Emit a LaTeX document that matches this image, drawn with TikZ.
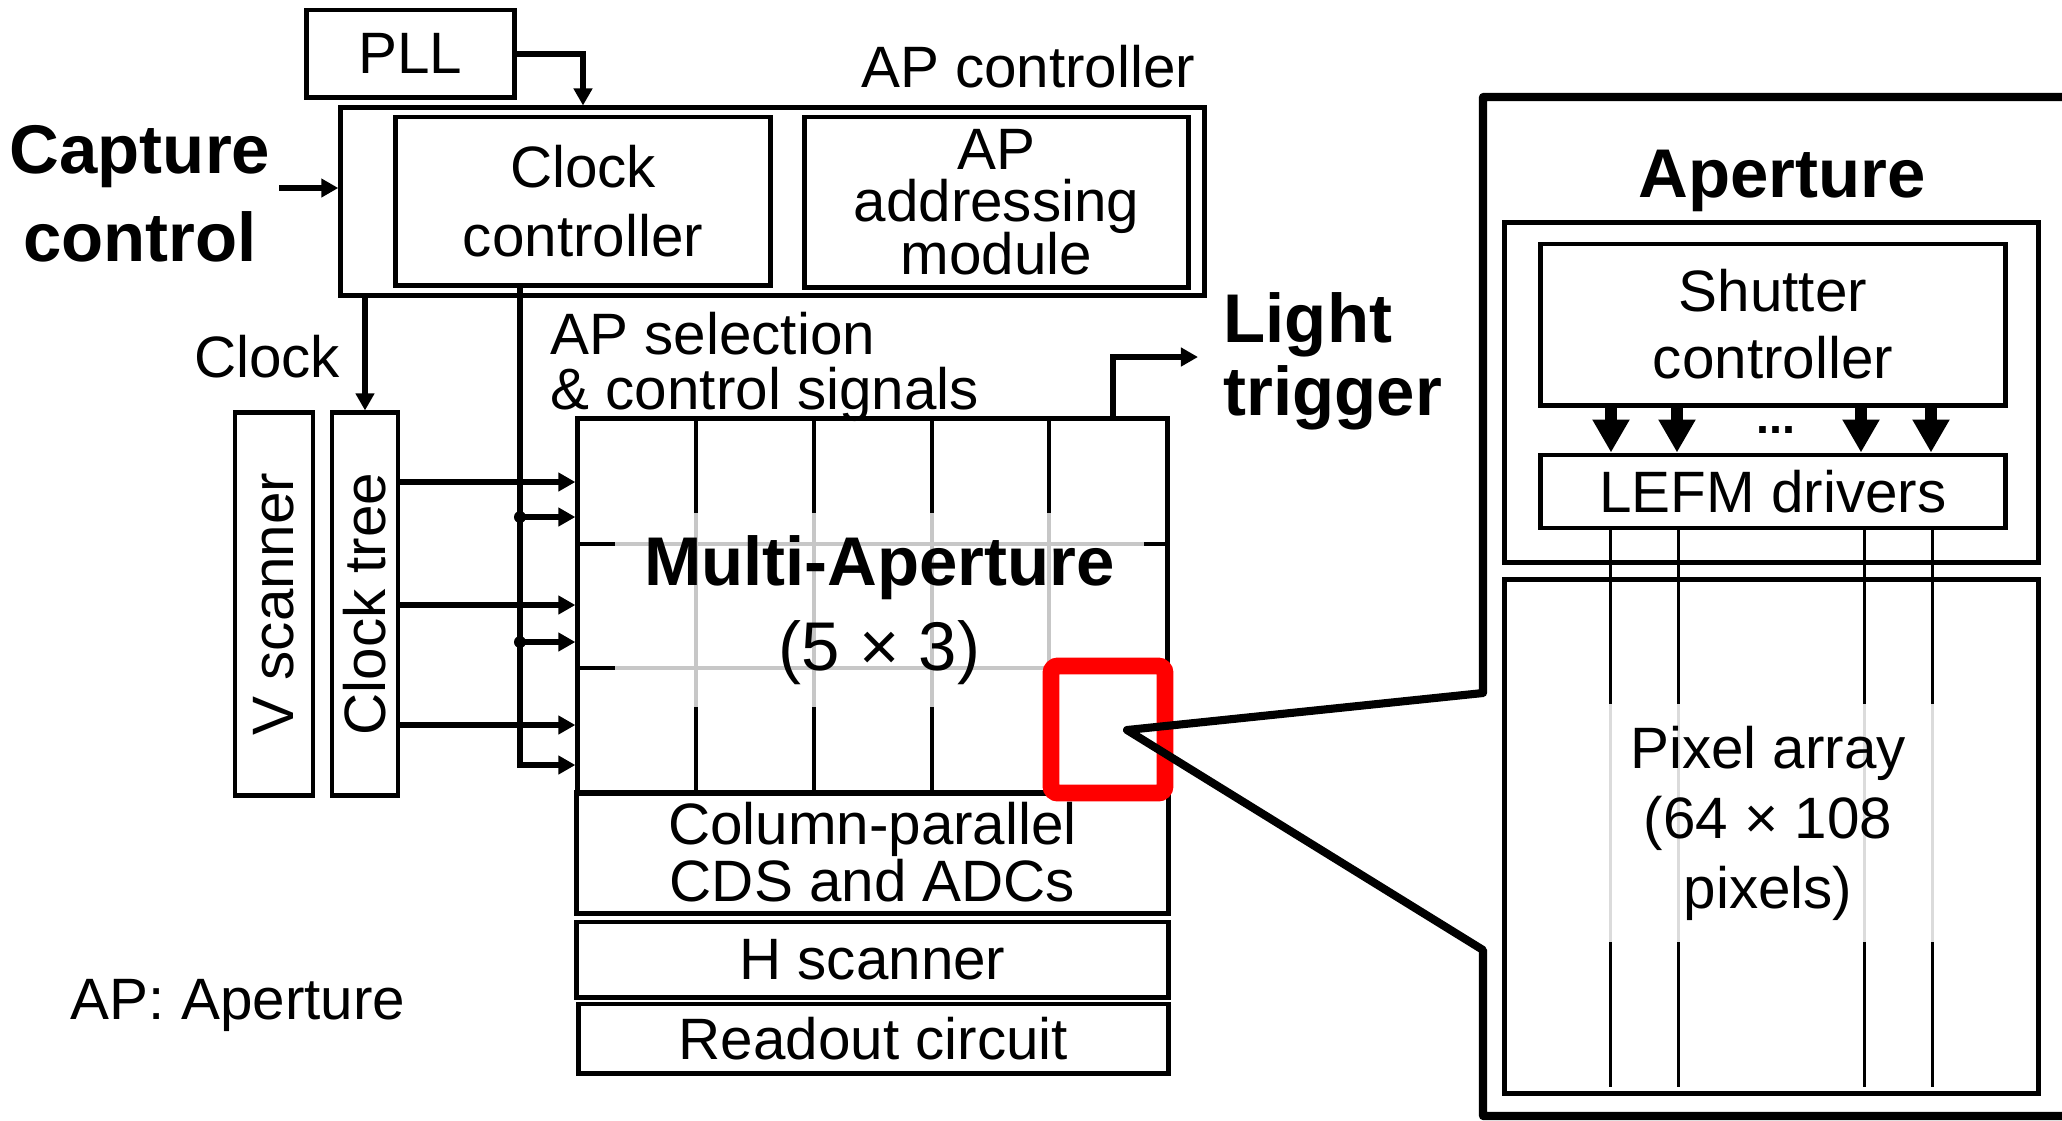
\documentclass[tikz,border=0pt]{standalone}
\usepackage{fontspec}
\setmainfont{Liberation Sans}
\usepackage{graphicx}
\usetikzlibrary{arrows.meta}
\lineskiplimit=-\maxdimen
\newcommand{\rmsize}{\fontsize{16.6}{19.6}\selectfont}
\newcommand{\bfsize}{\fontsize{19.6}{24}\selectfont\bfseries}
\begin{document}
\begin{tikzpicture}[x=0.01cm,y=-0.01cm,>={Triangle[length=0.17cm,width=0.18cm]},
	blk/.style={draw,line width=1.4pt,inner sep=0pt,align=center,font=\rmsize},
	lbl/.style={inner sep=0pt,align=center,font=\rmsize},
	bold lbl/.style={inner sep=0pt,align=center,font=\bfsize},
	sig/.style={->,line width=1.7pt},
	cellline/.style={line width=1.4pt},
	fat/.style={line width=3.4pt,-{Triangle[length=0.33cm,width=0.35cm]}},
	veil/.style={inner sep=0pt,align=center,fill=white,text opacity=1}]
	\useasboundingbox (0,0) rectangle (2062,1120);
	% AP controller
	\node[blk,minimum width=2.07cm,minimum height=0.87cm] (pll) at (410.5,53.5) {PLL};
	\node[blk,minimum width=8.63cm,minimum height=1.87cm] (apc) at (772.5,201.5) {};
	\node[lbl,anchor=base east] (apclbl) at (1196,87) {AP controller};
	\node[blk,minimum width=3.74cm,minimum height=1.68cm] (clkctl) at (583,201) {Clock\\controller};
	\node[blk,minimum width=3.83cm,minimum height=1.70cm,font=\fontsize{16.6}{15}\selectfont] (apam) at (996.5,202) {AP\\addressing\\module};
	\node[bold lbl,font=\fontsize{19.6}{25}\selectfont\bfseries] (capctl) at (140,194) {Capture\\control};
	\coordinate (capin) at (279,188);
	\draw[sig] (capin) -- (capin -| apc.west);
	\draw[sig] (pll.east) -| (clkctl.north |- apc.north);
	% scanners
	\node[lbl,anchor=base] (clklbl) at (267,377) {Clock};
	\node[blk,minimum width=0.78cm,minimum height=3.82cm] (vsc) at (274,604) {\rotatebox{90}{V scanner}};
	\node[blk,minimum width=0.66cm,minimum height=3.82cm] (tree) at (365,604) {\rotatebox{90}{Clock tree}};
	\draw[sig] (tree.north |- apc.south) -- (tree.north);
	% multi-aperture array
	\node[draw,line width=1.4pt,minimum width=5.89cm,minimum height=3.74cm] (array) at (872.5,606) {};
	\foreach \x in {696,814,932,1049}
		\draw[cellline] (array.north -| \x,0) -- (array.south -| \x,0);
	\foreach \y in {544,668}
		\draw[cellline] (array.west |- 0,\y) -- (array.east |- 0,\y);
	\node[veil,fill opacity=0.78,minimum width=5.29cm,minimum height=1.93cm,font=\fontsize{19.6}{24.2}\selectfont] (ma) at (879.5,610) {\textbf{Multi-Aperture}\\(5 × 3)};
	\foreach \y in {482,605,725}
		\draw[sig] (tree.east |- 0,\y) -- (array.west |- 0,\y);
	\coordinate (bus) at (520,0);
	\draw[sig] (clkctl.south -| bus) |- (array.west |- 0,765);
	\foreach \y in {517,642} {
		\draw[sig] (bus |- 0,\y) -- (array.west |- 0,\y);
		\fill (bus |- 0,\y) circle (0.06cm);
	}
	\node[lbl,anchor=west,align=left,font=\fontsize{16.6}{15.6}\selectfont] (apsel) at (550,367) {AP selection\\\& control signals};
	\node[bold lbl,anchor=west,align=left,font=\fontsize{19.6}{20.8}\selectfont\bfseries] (lt) at (1223,361) {Light\\trigger};
	\coordinate (ltend) at (1198,357);
	\draw[sig] (array.north -| 1113,0) |- (ltend);
	% readout chain
	\node[blk,minimum width=5.91cm,minimum height=1.21cm,font=\fontsize{16.6}{16.2}\selectfont] (colpar) at (872.5,852.5) {Column-parallel\\CDS and ADCs};
	\node[blk,minimum width=5.91cm,minimum height=0.75cm] (hsc) at (872.5,959.5) {H scanner};
	\node[blk,minimum width=5.89cm,minimum height=0.69cm] (rdo) at (873.5,1038.5) {Readout circuit};
	\node[lbl,anchor=base] (apnote) at (238,1019) {AP: Aperture};
	\node[draw=red,line width=4.8pt,rounded corners=2pt,minimum width=1.14cm,minimum height=1.27cm] (sel) at (1108,729.5) {};
	% aperture detail
	\draw[line width=2.3pt,line join=round] (2062,97) -- (1483,97) -- (1483,693) -- (1127,730) -- (1483,950) -- (1483,1116) -- (2062,1116);
	\node[bold lbl,anchor=base] (aptitle) at (1782,197) {Aperture};
	\node[blk,minimum width=5.33cm,minimum height=3.39cm] (apbox) at (1771.5,392.5) {};
	\node[blk,minimum width=4.64cm,minimum height=1.61cm,font=\fontsize{16.6}{19}\selectfont] (shut) at (1773,324.5) {Shutter\\controller};
	\node[blk,minimum width=4.64cm,minimum height=0.73cm] (lefm) at (1773,491.5) {LEFM drivers};
	\foreach \x in {1611,1677,1861,1931}
		\draw[fat] (shut.south -| \x,0) -- (lefm.north -| \x,0);
	\node[inner sep=0pt,font=\fontsize{13.3}{14}\selectfont\bfseries] (dots) at (1776,430) {...};
	\node[blk,minimum width=5.33cm,minimum height=5.13cm] (pix) at (1771.5,836.5) {};
	\foreach \x in {1610,1678,1864,1932}
		\draw[line width=0.85pt] (lefm.south -| \x,0) -- ([yshift=0.09cm]pix.south -| \x,0);
	\node[veil,fill opacity=0.86,minimum width=3.6cm,minimum height=2.37cm,font=\fontsize{16.6}{19.9}\selectfont] (pixtxt) at (1768,823) {Pixel array\\(64 × 108\\pixels)};
\end{tikzpicture}
\end{document}
